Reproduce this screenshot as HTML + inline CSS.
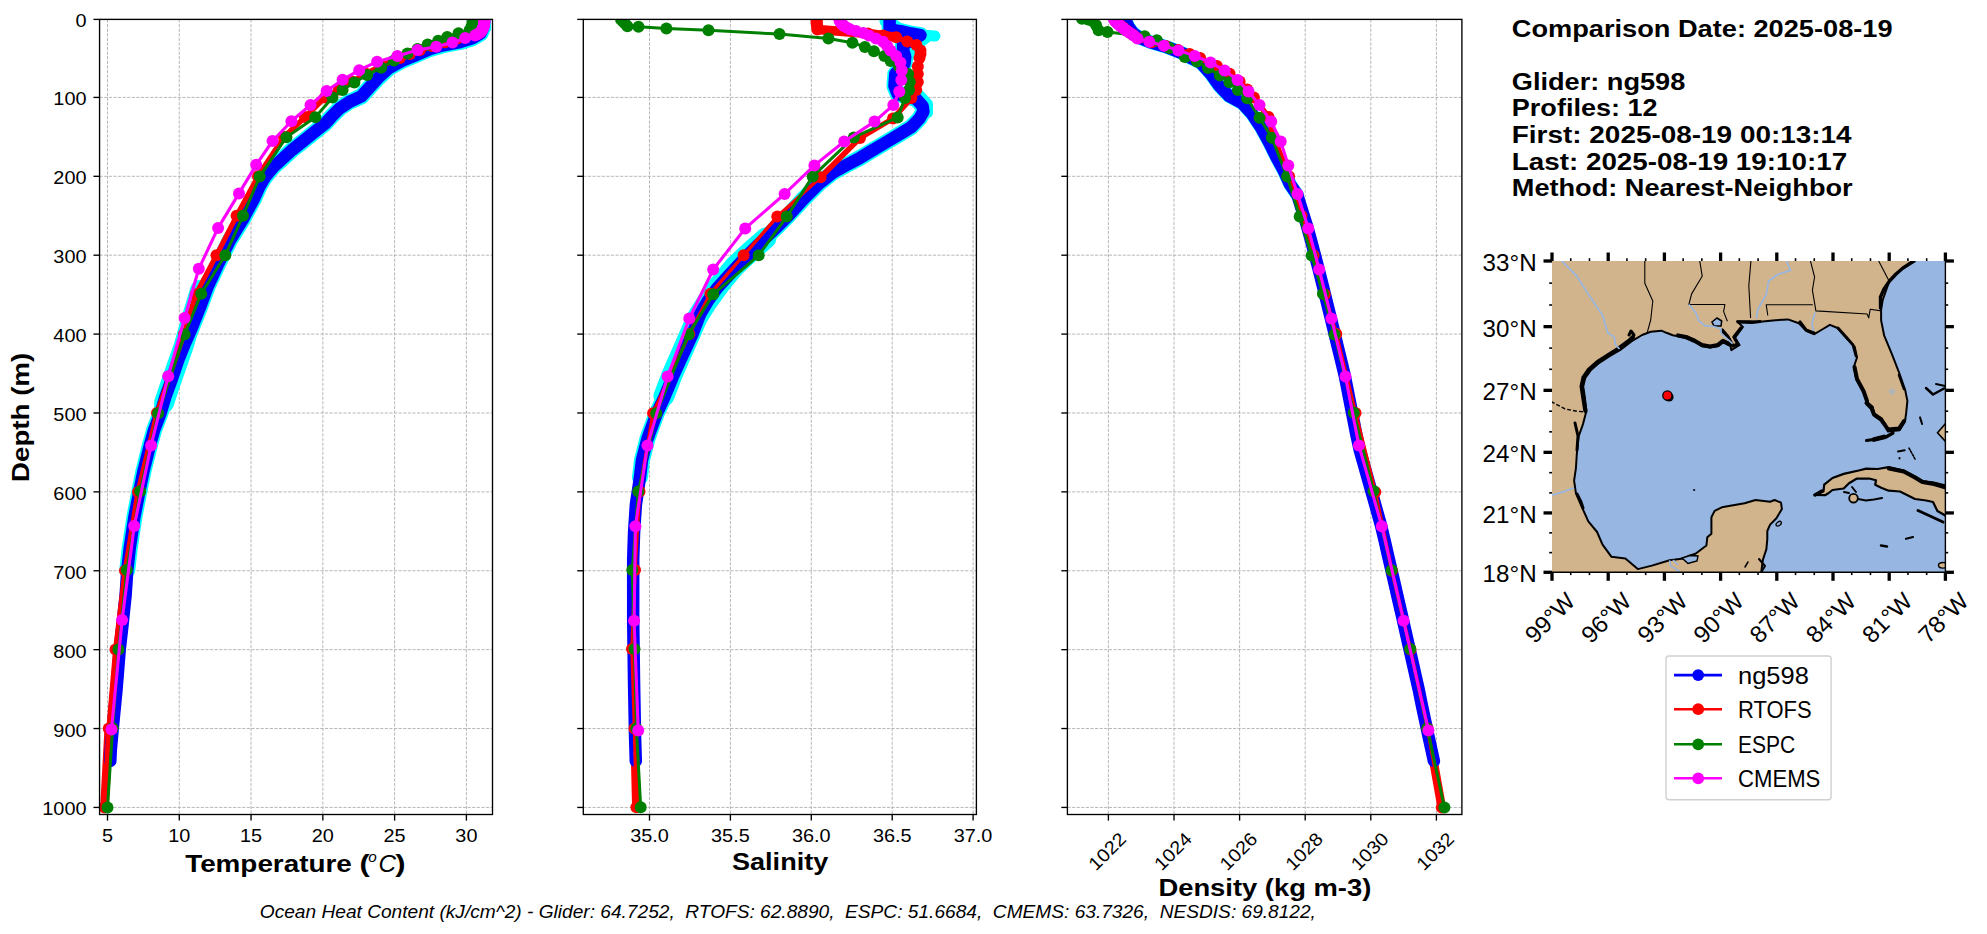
<!DOCTYPE html>
<html><head><meta charset="utf-8"><style>html,body{margin:0;padding:0;background:#fff;width:1987px;height:934px;overflow:hidden;position:relative}</style></head><body>
<svg width="1987" height="934" viewBox="0 0 1987 934" style="position:absolute;left:0;top:0;font-family:'Liberation Sans', sans-serif">
<rect width="1987" height="934" fill="#fff"/>
<clipPath id="clip0"><rect x="99.56" y="19.4" width="392.94" height="795.1"/></clipPath>
<g stroke="#b0b0b0" stroke-width="0.9" stroke-dasharray="3.2,1.4" fill="none">
<line x1="107.50" y1="19.4" x2="107.50" y2="814.5"/>
<line x1="179.28" y1="19.4" x2="179.28" y2="814.5"/>
<line x1="251.06" y1="19.4" x2="251.06" y2="814.5"/>
<line x1="322.84" y1="19.4" x2="322.84" y2="814.5"/>
<line x1="394.62" y1="19.4" x2="394.62" y2="814.5"/>
<line x1="466.40" y1="19.4" x2="466.40" y2="814.5"/>
<line x1="99.56" y1="19.40" x2="492.5" y2="19.40"/>
<line x1="99.56" y1="97.42" x2="492.5" y2="97.42"/>
<line x1="99.56" y1="176.31" x2="492.5" y2="176.31"/>
<line x1="99.56" y1="255.20" x2="492.5" y2="255.20"/>
<line x1="99.56" y1="334.09" x2="492.5" y2="334.09"/>
<line x1="99.56" y1="412.98" x2="492.5" y2="412.98"/>
<line x1="99.56" y1="491.87" x2="492.5" y2="491.87"/>
<line x1="99.56" y1="570.76" x2="492.5" y2="570.76"/>
<line x1="99.56" y1="649.65" x2="492.5" y2="649.65"/>
<line x1="99.56" y1="728.54" x2="492.5" y2="728.54"/>
<line x1="99.56" y1="807.43" x2="492.5" y2="807.43"/>
</g>
<clipPath id="clip1"><rect x="583.3" y="19.4" width="393.1" height="795.1"/></clipPath>
<g stroke="#b0b0b0" stroke-width="0.9" stroke-dasharray="3.2,1.4" fill="none">
<line x1="649.50" y1="19.4" x2="649.50" y2="814.5"/>
<line x1="730.40" y1="19.4" x2="730.40" y2="814.5"/>
<line x1="811.30" y1="19.4" x2="811.30" y2="814.5"/>
<line x1="892.20" y1="19.4" x2="892.20" y2="814.5"/>
<line x1="973.10" y1="19.4" x2="973.10" y2="814.5"/>
<line x1="583.3" y1="19.40" x2="976.4" y2="19.40"/>
<line x1="583.3" y1="97.42" x2="976.4" y2="97.42"/>
<line x1="583.3" y1="176.31" x2="976.4" y2="176.31"/>
<line x1="583.3" y1="255.20" x2="976.4" y2="255.20"/>
<line x1="583.3" y1="334.09" x2="976.4" y2="334.09"/>
<line x1="583.3" y1="412.98" x2="976.4" y2="412.98"/>
<line x1="583.3" y1="491.87" x2="976.4" y2="491.87"/>
<line x1="583.3" y1="570.76" x2="976.4" y2="570.76"/>
<line x1="583.3" y1="649.65" x2="976.4" y2="649.65"/>
<line x1="583.3" y1="728.54" x2="976.4" y2="728.54"/>
<line x1="583.3" y1="807.43" x2="976.4" y2="807.43"/>
</g>
<clipPath id="clip2"><rect x="1067.4" y="19.4" width="394.5" height="795.1"/></clipPath>
<g stroke="#b0b0b0" stroke-width="0.9" stroke-dasharray="3.2,1.4" fill="none">
<line x1="1108.40" y1="19.4" x2="1108.40" y2="814.5"/>
<line x1="1174.00" y1="19.4" x2="1174.00" y2="814.5"/>
<line x1="1239.60" y1="19.4" x2="1239.60" y2="814.5"/>
<line x1="1305.20" y1="19.4" x2="1305.20" y2="814.5"/>
<line x1="1370.80" y1="19.4" x2="1370.80" y2="814.5"/>
<line x1="1436.40" y1="19.4" x2="1436.40" y2="814.5"/>
<line x1="1067.4" y1="19.40" x2="1461.9" y2="19.40"/>
<line x1="1067.4" y1="97.42" x2="1461.9" y2="97.42"/>
<line x1="1067.4" y1="176.31" x2="1461.9" y2="176.31"/>
<line x1="1067.4" y1="255.20" x2="1461.9" y2="255.20"/>
<line x1="1067.4" y1="334.09" x2="1461.9" y2="334.09"/>
<line x1="1067.4" y1="412.98" x2="1461.9" y2="412.98"/>
<line x1="1067.4" y1="491.87" x2="1461.9" y2="491.87"/>
<line x1="1067.4" y1="570.76" x2="1461.9" y2="570.76"/>
<line x1="1067.4" y1="649.65" x2="1461.9" y2="649.65"/>
<line x1="1067.4" y1="728.54" x2="1461.9" y2="728.54"/>
<line x1="1067.4" y1="807.43" x2="1461.9" y2="807.43"/>
</g>
<g clip-path="url(#clip0)" fill="none" stroke-linejoin="round" stroke-linecap="round">
<polyline points="483.0,20.0 483.0,28.0 480.5,33.5 473.0,38.0 460.0,42.0 442.0,45.5 430.0,49.0 415.0,55.5 401.5,61.0 389.0,68.0 378.0,78.0 368.0,89.0 361.4,96.4 349.6,101.7 339.9,108.2 331.4,116.7 325.0,123.7 313.7,132.7 302.5,141.7 292.0,150.0 282.2,159.0 273.2,167.2 265.0,177.0 259.7,186.0 254.2,198.2 243.0,219.0 230.1,240.0 218.9,262.4 207.7,286.5 200.6,305.7 191.0,329.8 184.6,344.2 178.2,360.3 171.7,379.5 165.3,397.2 160.5,413.2 154.1,430.0 149.8,445.7 143.4,471.4 139.4,491.2 134.5,516.4 129.7,548.5 127.3,570.0" stroke="#00ffff" stroke-width="16"/>
<polyline points="200,290 191,320 184,345 177,365 170,385 164,403" stroke="#00ffff" stroke-width="20"/>
<polyline points="108.8,728.5 104.5,807.4" stroke="#ff0000" stroke-width="8.7"/>
<polyline points="483.0,20.0 483.0,28.0 480.5,33.5 473.0,38.0 460.0,42.0 442.0,45.5 430.0,49.0 415.0,55.5 401.5,61.0 389.0,68.0 378.0,78.0 368.0,89.0 361.4,96.4 349.6,101.7 339.9,108.2 331.4,116.7 325.0,123.7 313.7,132.7 302.5,141.7 292.0,150.0 282.2,159.0 273.2,167.2 265.0,177.0 259.7,186.0 254.2,198.2 243.0,219.0 230.1,240.0 218.9,262.4 207.7,286.5 200.6,305.7 191.0,329.8 184.6,344.2 178.2,360.3 171.7,379.5 165.3,397.2 160.5,413.2 154.1,430.0 149.8,445.7 143.4,471.4 139.4,491.2 134.5,516.4 129.7,548.5 127.3,570.0 125.6,595.3 122.5,625.0 119.8,649.0 116.5,690.0 112.8,728.0 110.8,750.0 110.3,761.0" stroke="#0000ff" stroke-width="12.5"/>
<polyline points="484.0,18.5 484.0,20.1 484.0,21.7 484.0,23.3 483.5,24.8 483.0,26.4 482.0,28.0 479.0,30.4 470.0,34.3 458.0,38.3 445.0,42.2 432.0,46.1 420.0,50.1 410.0,54.0 400.0,58.0 381.0,65.9 366.0,73.8 352.0,81.6 339.0,89.5 325.0,97.4 305.0,117.1 284.0,136.9 258.0,176.3" stroke="#ff0000" stroke-width="5.5"/>
<polyline points="258.0,176.3 236.6,215.8 216.5,255.2 195.6,294.6 184.0,334.1 157.0,413.0 138.0,491.9 125.0,570.8 115.5,649.6 108.8,728.5 104.5,807.4" stroke="#ff0000" stroke-width="5"/>
<g fill="#ff0000" stroke="none"><circle cx="484.0" cy="18.5" r="6"/><circle cx="484.0" cy="20.1" r="6"/><circle cx="484.0" cy="21.7" r="6"/><circle cx="484.0" cy="23.3" r="6"/><circle cx="483.5" cy="24.8" r="6"/><circle cx="483.0" cy="26.4" r="6"/><circle cx="482.0" cy="28.0" r="6"/><circle cx="479.0" cy="30.4" r="6"/><circle cx="470.0" cy="34.3" r="6"/><circle cx="458.0" cy="38.3" r="6"/><circle cx="445.0" cy="42.2" r="6"/><circle cx="432.0" cy="46.1" r="6"/><circle cx="420.0" cy="50.1" r="6"/><circle cx="410.0" cy="54.0" r="6"/><circle cx="400.0" cy="58.0" r="6"/><circle cx="381.0" cy="65.9" r="6"/><circle cx="366.0" cy="73.8" r="6"/><circle cx="352.0" cy="81.6" r="6"/><circle cx="339.0" cy="89.5" r="6"/><circle cx="325.0" cy="97.4" r="6"/><circle cx="305.0" cy="117.1" r="6"/><circle cx="284.0" cy="136.9" r="6"/><circle cx="258.0" cy="176.3" r="6"/><circle cx="236.6" cy="215.8" r="6"/><circle cx="216.5" cy="255.2" r="6"/><circle cx="195.6" cy="294.6" r="6"/><circle cx="184.0" cy="334.1" r="6"/><circle cx="157.0" cy="413.0" r="6"/><circle cx="138.0" cy="491.9" r="6"/><circle cx="125.0" cy="570.8" r="6"/><circle cx="115.5" cy="649.6" r="6"/><circle cx="108.8" cy="728.5" r="6"/><circle cx="104.5" cy="807.4" r="6"/></g>
<polyline points="472.9,19.5 472.9,21.2 472.7,23.0 472.4,24.8 471.8,26.6 470.8,28.5 469.5,30.5 458.5,33.2 447.2,37.0 438.2,40.7 427.7,44.5 417.5,49.0 407.5,53.5 394.0,60.5 381.2,67.7 367.2,75.0 354.4,82.5 342.6,90.0 332.5,97.5 315.3,117.3 286.4,137.2 259.7,176.6 243.0,215.8 225.3,255.2 201.2,293.7 184.6,334.6 158.1,413.2 140.2,491.2 126.8,570.1 118.5,649.4 112.6,728.2 107.5,807.4" stroke="#008000" stroke-width="3.0"/>
<g fill="#008000" stroke="none"><circle cx="472.9" cy="19.5" r="6"/><circle cx="472.9" cy="21.2" r="6"/><circle cx="472.7" cy="23.0" r="6"/><circle cx="472.4" cy="24.8" r="6"/><circle cx="471.8" cy="26.6" r="6"/><circle cx="470.8" cy="28.5" r="6"/><circle cx="469.5" cy="30.5" r="6"/><circle cx="458.5" cy="33.2" r="6"/><circle cx="447.2" cy="37.0" r="6"/><circle cx="438.2" cy="40.7" r="6"/><circle cx="427.7" cy="44.5" r="6"/><circle cx="417.5" cy="49.0" r="6"/><circle cx="407.5" cy="53.5" r="6"/><circle cx="394.0" cy="60.5" r="6"/><circle cx="381.2" cy="67.7" r="6"/><circle cx="367.2" cy="75.0" r="6"/><circle cx="354.4" cy="82.5" r="6"/><circle cx="342.6" cy="90.0" r="6"/><circle cx="332.5" cy="97.5" r="6"/><circle cx="315.3" cy="117.3" r="6"/><circle cx="286.4" cy="137.2" r="6"/><circle cx="259.7" cy="176.6" r="6"/><circle cx="243.0" cy="215.8" r="6"/><circle cx="225.3" cy="255.2" r="6"/><circle cx="201.2" cy="293.7" r="6"/><circle cx="184.6" cy="334.6" r="6"/><circle cx="158.1" cy="413.2" r="6"/><circle cx="140.2" cy="491.2" r="6"/><circle cx="126.8" cy="570.1" r="6"/><circle cx="118.5" cy="649.4" r="6"/><circle cx="112.6" cy="728.2" r="6"/><circle cx="107.5" cy="807.4" r="6"/></g>
<polyline points="484.4,19.5 484.5,20.6 484.5,21.7 484.4,22.8 484.2,24.0 484.0,25.3 483.6,26.6 483.0,28.0 482.3,29.5 481.5,31.0 480.0,32.8 477.5,34.2 475.0,35.5 465.2,38.1 452.5,42.6 436.3,46.7 417.6,50.1 397.4,56.1 377.1,61.7 359.2,70.2 342.6,79.8 326.6,91.0 310.5,105.0 291.4,121.2 272.5,141.0 256.2,164.8 239.0,193.4 218.1,227.9 198.8,268.8 184.6,318.0 168.2,376.3 151.1,445.4 134.2,526.0 122.1,620.0 111.5,729.5" stroke="#ff00ff" stroke-width="3.1"/>
<g fill="#ff00ff" stroke="none"><circle cx="484.4" cy="19.5" r="6"/><circle cx="484.5" cy="20.6" r="6"/><circle cx="484.5" cy="21.7" r="6"/><circle cx="484.4" cy="22.8" r="6"/><circle cx="484.2" cy="24.0" r="6"/><circle cx="484.0" cy="25.3" r="6"/><circle cx="483.6" cy="26.6" r="6"/><circle cx="483.0" cy="28.0" r="6"/><circle cx="482.3" cy="29.5" r="6"/><circle cx="481.5" cy="31.0" r="6"/><circle cx="480.0" cy="32.8" r="6"/><circle cx="477.5" cy="34.2" r="6"/><circle cx="475.0" cy="35.5" r="6"/><circle cx="465.2" cy="38.1" r="6"/><circle cx="452.5" cy="42.6" r="6"/><circle cx="436.3" cy="46.7" r="6"/><circle cx="417.6" cy="50.1" r="6"/><circle cx="397.4" cy="56.1" r="6"/><circle cx="377.1" cy="61.7" r="6"/><circle cx="359.2" cy="70.2" r="6"/><circle cx="342.6" cy="79.8" r="6"/><circle cx="326.6" cy="91.0" r="6"/><circle cx="310.5" cy="105.0" r="6"/><circle cx="291.4" cy="121.2" r="6"/><circle cx="272.5" cy="141.0" r="6"/><circle cx="256.2" cy="164.8" r="6"/><circle cx="239.0" cy="193.4" r="6"/><circle cx="218.1" cy="227.9" r="6"/><circle cx="198.8" cy="268.8" r="6"/><circle cx="184.6" cy="318.0" r="6"/><circle cx="168.2" cy="376.3" r="6"/><circle cx="151.1" cy="445.4" r="6"/><circle cx="134.2" cy="526.0" r="6"/><circle cx="122.1" cy="620.0" r="6"/><circle cx="111.5" cy="729.5" r="6"/></g>
</g>
<g clip-path="url(#clip1)" fill="none" stroke-linejoin="round" stroke-linecap="round">
<polyline points="889.6,20.5 889.6,28.0 895.0,30.5 902.4,31.5 911.0,33.5 920.5,35.2 912.0,40.0 903.0,45.0 903.1,49.8 905.2,56.8 904.5,63.7 895.3,74.0 894.5,86.0 897.7,94.1 916.2,98.9 922.6,106.1 923.4,111.7 919.5,118.5 911.3,127.1 898.5,134.8 885.7,142.5 872.8,150.2 860.0,157.9 847.0,164.8 833.0,172.5 819.0,183.5 803.0,199.5 786.9,217.2 777.9,226.2 758.7,244.2 743.0,260.0 728.4,275.7 717.1,288.1 708.1,300.5 700.2,314.0 692.5,334.1 681.3,358.2 672.5,377.5 664.5,396.8 656.5,414.0 647.5,438.6 642.0,460.0 640.0,477.3" stroke="#00ffff" stroke-width="16"/>
<polyline points="886.0,21.0 897.0,28.0" stroke="#00ffff" stroke-width="13"/>
<polyline points="920.0,35.0 935.0,36.0" stroke="#00ffff" stroke-width="11"/>
<polyline points="928.0,38.0 915.0,48.0 910.0,58.0" stroke="#00ffff" stroke-width="8"/>
<polyline points="920.0,95.0 928.0,104.0 928.0,113.0" stroke="#00ffff" stroke-width="10"/>
<polyline points="766.0,238.0 750.0,252.0 735.0,266.0 720.0,284.0 707.0,302.0 697.0,318.0 683.0,350.0 672.0,375.0 664.0,396.0" stroke="#00ffff" stroke-width="21"/>
<polyline points="634.5,728.4 636.4,807.3" stroke="#ff0000" stroke-width="8.7"/>
<polyline points="889.6,20.5 889.6,28.0 895.0,30.5 902.4,31.5 911.0,33.5 920.5,35.2 912.0,40.0 903.0,45.0 903.1,49.8 905.2,56.8 904.5,63.7 895.3,74.0 894.5,86.0 897.7,94.1 916.2,98.9 922.6,106.1 923.4,111.7 919.5,118.5 911.3,127.1 898.5,134.8 885.7,142.5 872.8,150.2 860.0,157.9 847.0,164.8 833.0,172.5 819.0,183.5 803.0,199.5 786.9,217.2 777.9,226.2 758.7,244.2 743.0,260.0 728.4,275.7 717.1,288.1 708.1,300.5 700.2,314.0 692.5,334.1 681.3,358.2 672.5,377.5 664.5,396.8 656.5,414.0 647.5,438.6 642.0,460.0 640.0,477.3 635.9,504.5 634.1,531.8 633.2,559.0 633.2,586.4 633.2,620.0 634.0,680.0 635.0,734.5 635.8,761.0" stroke="#0000ff" stroke-width="12.5"/>
<polyline points="816.6,18.5 816.6,20.1 816.6,21.7 816.7,23.3 816.9,24.8 817.1,26.4 817.4,29.5 868.0,33.5 883.0,35.5 896.2,37.2 907.3,41.4 916.4,44.9 920.5,50.5 920.5,54.0 919.5,58.0 917.8,66.5 917.8,74.0 917.8,82.0 916.2,90.1 911.4,98.1 893.0,118.5 860.0,138.0 820.6,177.3" stroke="#ff0000" stroke-width="5.5"/>
<polyline points="820.6,177.3 777.3,216.6 743.6,255.3 710.4,293.7 689.3,334.0 653.1,413.3 639.5,491.5 635.0,570.0 632.0,649.1 634.5,728.4 636.4,807.3" stroke="#ff0000" stroke-width="3.5"/>
<polyline points="816.6,18.5 816.6,20.1 816.6,21.7 816.7,23.3 816.9,24.8 817.1,26.4 817.4,29.5 868.0,33.5 883.0,35.5 896.2,37.2" stroke="#ff0000" stroke-width="9.5"/>
<g fill="#ff0000" stroke="none"><circle cx="816.6" cy="18.5" r="6"/><circle cx="816.6" cy="20.1" r="6"/><circle cx="816.6" cy="21.7" r="6"/><circle cx="816.7" cy="23.3" r="6"/><circle cx="816.9" cy="24.8" r="6"/><circle cx="817.1" cy="26.4" r="6"/><circle cx="817.4" cy="29.5" r="6"/><circle cx="868.0" cy="33.5" r="6"/><circle cx="883.0" cy="35.5" r="6"/><circle cx="896.2" cy="37.2" r="6"/><circle cx="907.3" cy="41.4" r="6"/><circle cx="916.4" cy="44.9" r="6"/><circle cx="920.5" cy="50.5" r="6"/><circle cx="920.5" cy="54.0" r="6"/><circle cx="919.5" cy="58.0" r="6"/><circle cx="917.8" cy="66.5" r="6"/><circle cx="917.8" cy="74.0" r="6"/><circle cx="917.8" cy="82.0" r="6"/><circle cx="916.2" cy="90.1" r="6"/><circle cx="911.4" cy="98.1" r="6"/><circle cx="893.0" cy="118.5" r="6"/><circle cx="860.0" cy="138.0" r="6"/><circle cx="820.6" cy="177.3" r="6"/><circle cx="777.3" cy="216.6" r="6"/><circle cx="743.6" cy="255.3" r="6"/><circle cx="710.4" cy="293.7" r="6"/><circle cx="689.3" cy="334.0" r="6"/><circle cx="653.1" cy="413.3" r="6"/><circle cx="639.5" cy="491.5" r="6"/><circle cx="635.0" cy="570.0" r="6"/><circle cx="632.0" cy="649.1" r="6"/><circle cx="634.5" cy="728.4" r="6"/><circle cx="636.4" cy="807.3" r="6"/></g>
<polyline points="621.0,19.5 623.0,21.5 625.0,23.5 627.4,26.2 638.5,26.8 666.4,28.5 708.5,30.3 779.5,34.1 828.4,38.6 852.4,42.7 864.9,47.0 873.9,51.2 884.4,56.1 890.6,61.0 899.0,66.5 908.2,74.0 909.8,82.0 909.0,90.1 905.0,98.1 897.7,117.4 853.8,137.4 812.7,176.4 786.8,216.6 758.7,255.3 713.2,294.3 688.5,334.4 656.3,413.3 638.3,491.5 632.3,570.0 634.5,649.1 636.4,728.4 640.7,807.3" stroke="#008000" stroke-width="3.0"/>
<g fill="#008000" stroke="none"><circle cx="621.0" cy="19.5" r="6"/><circle cx="623.0" cy="21.5" r="6"/><circle cx="625.0" cy="23.5" r="6"/><circle cx="627.4" cy="26.2" r="6"/><circle cx="638.5" cy="26.8" r="6"/><circle cx="666.4" cy="28.5" r="6"/><circle cx="708.5" cy="30.3" r="6"/><circle cx="779.5" cy="34.1" r="6"/><circle cx="828.4" cy="38.6" r="6"/><circle cx="852.4" cy="42.7" r="6"/><circle cx="864.9" cy="47.0" r="6"/><circle cx="873.9" cy="51.2" r="6"/><circle cx="884.4" cy="56.1" r="6"/><circle cx="890.6" cy="61.0" r="6"/><circle cx="899.0" cy="66.5" r="6"/><circle cx="908.2" cy="74.0" r="6"/><circle cx="909.8" cy="82.0" r="6"/><circle cx="909.0" cy="90.1" r="6"/><circle cx="905.0" cy="98.1" r="6"/><circle cx="897.7" cy="117.4" r="6"/><circle cx="853.8" cy="137.4" r="6"/><circle cx="812.7" cy="176.4" r="6"/><circle cx="786.8" cy="216.6" r="6"/><circle cx="758.7" cy="255.3" r="6"/><circle cx="713.2" cy="294.3" r="6"/><circle cx="688.5" cy="334.4" r="6"/><circle cx="656.3" cy="413.3" r="6"/><circle cx="638.3" cy="491.5" r="6"/><circle cx="632.3" cy="570.0" r="6"/><circle cx="634.5" cy="649.1" r="6"/><circle cx="636.4" cy="728.4" r="6"/><circle cx="640.7" cy="807.3" r="6"/></g>
<polyline points="839.5,18.9 839.6,19.7 839.8,20.6 840.2,21.5 840.8,22.5 841.6,23.6 842.6,24.8 844.0,26.1 846.5,27.5 850.0,29.2 856.0,31.0 863.4,33.1 869.0,35.6 876.0,38.4 883.0,41.8 887.0,45.7 890.5,50.4 896.2,55.9 900.4,62.5 901.8,70.4 901.3,79.9 899.3,91.4 893.3,105.1 874.5,121.6 844.2,141.5 814.4,165.4 784.6,194.0 745.2,228.4 713.2,269.5 689.3,318.5 667.6,376.6 647.5,445.4 635.4,526.2 634.1,620.7 638.2,730.4" stroke="#ff00ff" stroke-width="3.1"/>
<g fill="#ff00ff" stroke="none"><circle cx="839.5" cy="18.9" r="6"/><circle cx="839.6" cy="19.7" r="6"/><circle cx="839.8" cy="20.6" r="6"/><circle cx="840.2" cy="21.5" r="6"/><circle cx="840.8" cy="22.5" r="6"/><circle cx="841.6" cy="23.6" r="6"/><circle cx="842.6" cy="24.8" r="6"/><circle cx="844.0" cy="26.1" r="6"/><circle cx="846.5" cy="27.5" r="6"/><circle cx="850.0" cy="29.2" r="6"/><circle cx="856.0" cy="31.0" r="6"/><circle cx="863.4" cy="33.1" r="6"/><circle cx="869.0" cy="35.6" r="6"/><circle cx="876.0" cy="38.4" r="6"/><circle cx="883.0" cy="41.8" r="6"/><circle cx="887.0" cy="45.7" r="6"/><circle cx="890.5" cy="50.4" r="6"/><circle cx="896.2" cy="55.9" r="6"/><circle cx="900.4" cy="62.5" r="6"/><circle cx="901.8" cy="70.4" r="6"/><circle cx="901.3" cy="79.9" r="6"/><circle cx="899.3" cy="91.4" r="6"/><circle cx="893.3" cy="105.1" r="6"/><circle cx="874.5" cy="121.6" r="6"/><circle cx="844.2" cy="141.5" r="6"/><circle cx="814.4" cy="165.4" r="6"/><circle cx="784.6" cy="194.0" r="6"/><circle cx="745.2" cy="228.4" r="6"/><circle cx="713.2" cy="269.5" r="6"/><circle cx="689.3" cy="318.5" r="6"/><circle cx="667.6" cy="376.6" r="6"/><circle cx="647.5" cy="445.4" r="6"/><circle cx="635.4" cy="526.2" r="6"/><circle cx="634.1" cy="620.7" r="6"/><circle cx="638.2" cy="730.4" r="6"/></g>
</g>
<g clip-path="url(#clip2)" fill="none" stroke-linejoin="round" stroke-linecap="round">
<polyline points="1125.5,20.0 1128.5,27.0 1133.0,33.0 1140.0,38.0 1151.6,42.6 1165.8,46.7 1176.4,50.8 1183.0,53.5 1192.0,58.5 1201.0,63.0 1210.5,73.5 1219.0,85.5 1229.0,96.0 1242.0,103.0 1251.8,113.6 1261.2,127.7 1269.5,143.0 1276.5,157.2 1283.6,170.2 1290.0,184.3 1297.3,195.0" stroke="#00ffff" stroke-width="13.5"/>
<polyline points="1427.6,728.5 1441.8,807.4" stroke="#ff0000" stroke-width="8.7"/>
<polyline points="1125.5,20.0 1128.5,27.0 1133.0,33.0 1140.0,38.0 1151.6,42.6 1165.8,46.7 1176.4,50.8 1183.0,53.5 1192.0,58.5 1201.0,63.0 1210.5,73.5 1219.0,85.5 1229.0,96.0 1242.0,103.0 1251.8,113.6 1261.2,127.7 1269.5,143.0 1276.5,157.2 1283.6,170.2 1290.0,184.3 1297.3,195.0 1302.0,210.0 1306.7,225.0 1310.9,240.0 1314.9,255.0 1318.8,270.0 1322.6,285.0 1326.3,300.0 1330.0,315.0 1333.7,330.0 1337.3,345.0 1341.0,360.0 1344.6,375.0 1347.6,390.0 1350.5,405.0 1353.5,420.0 1356.4,435.0 1359.7,450.0 1364.0,465.0 1368.2,480.0 1372.5,495.0 1376.7,510.0 1380.9,525.0 1384.5,540.0 1387.9,555.0 1391.4,570.0 1394.9,585.0 1398.3,600.0 1401.8,615.0 1405.2,630.0 1408.6,645.0 1412.0,660.0 1415.4,675.0 1418.8,690.0 1421.8,705.0 1425.0,720.0 1428.2,735.0 1431.5,750.0 1433.9,761.0" stroke="#0000ff" stroke-width="12.5"/>
<polyline points="1114.5,18.5 1115.2,20.1 1116.1,21.7 1117.7,23.3 1119.6,24.8 1121.5,26.4 1123.6,28.0 1126.6,30.4 1132.2,34.3 1137.8,38.3 1151.4,42.2 1165.8,46.1 1178.1,50.1 1189.7,54.0 1200.1,58.0 1216.9,65.9 1229.6,73.8 1239.6,81.6 1247.2,89.5 1253.9,97.4 1268.5,117.1 1273.6,136.9 1289.0,176.3" stroke="#ff0000" stroke-width="5.5"/>
<polyline points="1289.0,176.3 1301.5,215.8 1313.5,255.2 1324.7,294.6 1336.3,334.1 1355.6,413.0 1375.3,491.9 1391.9,570.8 1410.5,649.6 1427.6,728.5 1441.8,807.4" stroke="#ff0000" stroke-width="3.5"/>
<g fill="#ff0000" stroke="none"><circle cx="1114.5" cy="18.5" r="6"/><circle cx="1115.2" cy="20.1" r="6"/><circle cx="1116.1" cy="21.7" r="6"/><circle cx="1117.7" cy="23.3" r="6"/><circle cx="1119.6" cy="24.8" r="6"/><circle cx="1121.5" cy="26.4" r="6"/><circle cx="1123.6" cy="28.0" r="6"/><circle cx="1126.6" cy="30.4" r="6"/><circle cx="1132.2" cy="34.3" r="6"/><circle cx="1137.8" cy="38.3" r="6"/><circle cx="1151.4" cy="42.2" r="6"/><circle cx="1165.8" cy="46.1" r="6"/><circle cx="1178.1" cy="50.1" r="6"/><circle cx="1189.7" cy="54.0" r="6"/><circle cx="1200.1" cy="58.0" r="6"/><circle cx="1216.9" cy="65.9" r="6"/><circle cx="1229.6" cy="73.8" r="6"/><circle cx="1239.6" cy="81.6" r="6"/><circle cx="1247.2" cy="89.5" r="6"/><circle cx="1253.9" cy="97.4" r="6"/><circle cx="1268.5" cy="117.1" r="6"/><circle cx="1273.6" cy="136.9" r="6"/><circle cx="1289.0" cy="176.3" r="6"/><circle cx="1301.5" cy="215.8" r="6"/><circle cx="1313.5" cy="255.2" r="6"/><circle cx="1324.7" cy="294.6" r="6"/><circle cx="1336.3" cy="334.1" r="6"/><circle cx="1355.6" cy="413.0" r="6"/><circle cx="1375.3" cy="491.9" r="6"/><circle cx="1391.9" cy="570.8" r="6"/><circle cx="1410.5" cy="649.6" r="6"/><circle cx="1427.6" cy="728.5" r="6"/><circle cx="1441.8" cy="807.4" r="6"/></g>
<polyline points="1082.0,18.8 1088.0,19.5 1092.0,20.8 1096.0,25.0 1098.6,30.3 1107.5,32.1 1144.6,36.2 1156.9,40.3 1169.4,48.0 1184.8,57.0 1197.0,61.5 1208.0,68.1 1219.9,75.4 1229.4,82.2 1237.9,89.9 1247.1,98.3 1259.5,117.7 1271.8,137.7 1287.2,176.6 1299.7,216.6 1311.7,255.5 1322.9,293.7 1334.5,334.5 1353.8,412.7 1373.5,490.9 1391.6,570.2 1410.2,649.1 1427.3,728.4 1444.4,807.4" stroke="#008000" stroke-width="3.0"/>
<g fill="#008000" stroke="none"><circle cx="1082.0" cy="18.8" r="6"/><circle cx="1088.0" cy="19.5" r="6"/><circle cx="1092.0" cy="20.8" r="6"/><circle cx="1096.0" cy="25.0" r="6"/><circle cx="1098.6" cy="30.3" r="6"/><circle cx="1107.5" cy="32.1" r="6"/><circle cx="1144.6" cy="36.2" r="6"/><circle cx="1156.9" cy="40.3" r="6"/><circle cx="1169.4" cy="48.0" r="6"/><circle cx="1184.8" cy="57.0" r="6"/><circle cx="1197.0" cy="61.5" r="6"/><circle cx="1208.0" cy="68.1" r="6"/><circle cx="1219.9" cy="75.4" r="6"/><circle cx="1229.4" cy="82.2" r="6"/><circle cx="1237.9" cy="89.9" r="6"/><circle cx="1247.1" cy="98.3" r="6"/><circle cx="1259.5" cy="117.7" r="6"/><circle cx="1271.8" cy="137.7" r="6"/><circle cx="1287.2" cy="176.6" r="6"/><circle cx="1299.7" cy="216.6" r="6"/><circle cx="1311.7" cy="255.5" r="6"/><circle cx="1322.9" cy="293.7" r="6"/><circle cx="1334.5" cy="334.5" r="6"/><circle cx="1353.8" cy="412.7" r="6"/><circle cx="1373.5" cy="490.9" r="6"/><circle cx="1391.6" cy="570.2" r="6"/><circle cx="1410.2" cy="649.1" r="6"/><circle cx="1427.3" cy="728.4" r="6"/><circle cx="1444.4" cy="807.4" r="6"/></g>
<polyline points="1114.0,18.9 1114.5,19.7 1115.0,20.6 1115.5,21.5 1116.5,22.5 1117.5,23.6 1119.0,24.8 1120.5,26.1 1122.5,27.5 1124.5,29.2 1127.0,31.0 1130.0,33.1 1133.5,35.6 1137.5,38.4 1149.3,41.8 1163.9,45.7 1178.4,50.4 1194.7,55.9 1210.5,62.5 1224.6,70.4 1237.5,79.9 1248.5,91.4 1259.5,105.1 1271.2,121.6 1280.7,141.5 1288.3,165.4 1297.5,194.0 1308.3,228.4 1319.2,269.5 1331.4,318.5 1345.5,376.6 1358.9,445.4 1381.8,526.2 1403.6,620.7 1428.4,730.4" stroke="#ff00ff" stroke-width="3.1"/>
<g fill="#ff00ff" stroke="none"><circle cx="1114.0" cy="18.9" r="6"/><circle cx="1114.5" cy="19.7" r="6"/><circle cx="1115.0" cy="20.6" r="6"/><circle cx="1115.5" cy="21.5" r="6"/><circle cx="1116.5" cy="22.5" r="6"/><circle cx="1117.5" cy="23.6" r="6"/><circle cx="1119.0" cy="24.8" r="6"/><circle cx="1120.5" cy="26.1" r="6"/><circle cx="1122.5" cy="27.5" r="6"/><circle cx="1124.5" cy="29.2" r="6"/><circle cx="1127.0" cy="31.0" r="6"/><circle cx="1130.0" cy="33.1" r="6"/><circle cx="1133.5" cy="35.6" r="6"/><circle cx="1137.5" cy="38.4" r="6"/><circle cx="1149.3" cy="41.8" r="6"/><circle cx="1163.9" cy="45.7" r="6"/><circle cx="1178.4" cy="50.4" r="6"/><circle cx="1194.7" cy="55.9" r="6"/><circle cx="1210.5" cy="62.5" r="6"/><circle cx="1224.6" cy="70.4" r="6"/><circle cx="1237.5" cy="79.9" r="6"/><circle cx="1248.5" cy="91.4" r="6"/><circle cx="1259.5" cy="105.1" r="6"/><circle cx="1271.2" cy="121.6" r="6"/><circle cx="1280.7" cy="141.5" r="6"/><circle cx="1288.3" cy="165.4" r="6"/><circle cx="1297.5" cy="194.0" r="6"/><circle cx="1308.3" cy="228.4" r="6"/><circle cx="1319.2" cy="269.5" r="6"/><circle cx="1331.4" cy="318.5" r="6"/><circle cx="1345.5" cy="376.6" r="6"/><circle cx="1358.9" cy="445.4" r="6"/><circle cx="1381.8" cy="526.2" r="6"/><circle cx="1403.6" cy="620.7" r="6"/><circle cx="1428.4" cy="730.4" r="6"/></g>
</g>
<rect x="99.56" y="19.4" width="392.94" height="795.10" fill="none" stroke="#000" stroke-width="1.35"/>
<g stroke="#000" stroke-width="1.35">
<line x1="107.50" y1="814.5" x2="107.50" y2="820.6"/>
<line x1="179.28" y1="814.5" x2="179.28" y2="820.6"/>
<line x1="251.06" y1="814.5" x2="251.06" y2="820.6"/>
<line x1="322.84" y1="814.5" x2="322.84" y2="820.6"/>
<line x1="394.62" y1="814.5" x2="394.62" y2="820.6"/>
<line x1="466.40" y1="814.5" x2="466.40" y2="820.6"/>
<line x1="93.46000000000001" y1="19.40" x2="99.56" y2="19.40"/>
<line x1="93.46000000000001" y1="97.42" x2="99.56" y2="97.42"/>
<line x1="93.46000000000001" y1="176.31" x2="99.56" y2="176.31"/>
<line x1="93.46000000000001" y1="255.20" x2="99.56" y2="255.20"/>
<line x1="93.46000000000001" y1="334.09" x2="99.56" y2="334.09"/>
<line x1="93.46000000000001" y1="412.98" x2="99.56" y2="412.98"/>
<line x1="93.46000000000001" y1="491.87" x2="99.56" y2="491.87"/>
<line x1="93.46000000000001" y1="570.76" x2="99.56" y2="570.76"/>
<line x1="93.46000000000001" y1="649.65" x2="99.56" y2="649.65"/>
<line x1="93.46000000000001" y1="728.54" x2="99.56" y2="728.54"/>
<line x1="93.46000000000001" y1="807.43" x2="99.56" y2="807.43"/>
</g>
<rect x="583.3" y="19.4" width="393.10" height="795.10" fill="none" stroke="#000" stroke-width="1.35"/>
<g stroke="#000" stroke-width="1.35">
<line x1="649.50" y1="814.5" x2="649.50" y2="820.6"/>
<line x1="730.40" y1="814.5" x2="730.40" y2="820.6"/>
<line x1="811.30" y1="814.5" x2="811.30" y2="820.6"/>
<line x1="892.20" y1="814.5" x2="892.20" y2="820.6"/>
<line x1="973.10" y1="814.5" x2="973.10" y2="820.6"/>
<line x1="577.1999999999999" y1="19.40" x2="583.3" y2="19.40"/>
<line x1="577.1999999999999" y1="97.42" x2="583.3" y2="97.42"/>
<line x1="577.1999999999999" y1="176.31" x2="583.3" y2="176.31"/>
<line x1="577.1999999999999" y1="255.20" x2="583.3" y2="255.20"/>
<line x1="577.1999999999999" y1="334.09" x2="583.3" y2="334.09"/>
<line x1="577.1999999999999" y1="412.98" x2="583.3" y2="412.98"/>
<line x1="577.1999999999999" y1="491.87" x2="583.3" y2="491.87"/>
<line x1="577.1999999999999" y1="570.76" x2="583.3" y2="570.76"/>
<line x1="577.1999999999999" y1="649.65" x2="583.3" y2="649.65"/>
<line x1="577.1999999999999" y1="728.54" x2="583.3" y2="728.54"/>
<line x1="577.1999999999999" y1="807.43" x2="583.3" y2="807.43"/>
</g>
<rect x="1067.4" y="19.4" width="394.50" height="795.10" fill="none" stroke="#000" stroke-width="1.35"/>
<g stroke="#000" stroke-width="1.35">
<line x1="1108.40" y1="814.5" x2="1108.40" y2="820.6"/>
<line x1="1174.00" y1="814.5" x2="1174.00" y2="820.6"/>
<line x1="1239.60" y1="814.5" x2="1239.60" y2="820.6"/>
<line x1="1305.20" y1="814.5" x2="1305.20" y2="820.6"/>
<line x1="1370.80" y1="814.5" x2="1370.80" y2="820.6"/>
<line x1="1436.40" y1="814.5" x2="1436.40" y2="820.6"/>
<line x1="1061.3000000000002" y1="19.40" x2="1067.4" y2="19.40"/>
<line x1="1061.3000000000002" y1="97.42" x2="1067.4" y2="97.42"/>
<line x1="1061.3000000000002" y1="176.31" x2="1067.4" y2="176.31"/>
<line x1="1061.3000000000002" y1="255.20" x2="1067.4" y2="255.20"/>
<line x1="1061.3000000000002" y1="334.09" x2="1067.4" y2="334.09"/>
<line x1="1061.3000000000002" y1="412.98" x2="1067.4" y2="412.98"/>
<line x1="1061.3000000000002" y1="491.87" x2="1067.4" y2="491.87"/>
<line x1="1061.3000000000002" y1="570.76" x2="1067.4" y2="570.76"/>
<line x1="1061.3000000000002" y1="649.65" x2="1067.4" y2="649.65"/>
<line x1="1061.3000000000002" y1="728.54" x2="1067.4" y2="728.54"/>
<line x1="1061.3000000000002" y1="807.43" x2="1067.4" y2="807.43"/>
</g>
<g fill="#000">
<text x="86.50" y="26.53" font-size="18.40" textLength="11.04" lengthAdjust="spacingAndGlyphs" text-anchor="end" style="white-space:pre">0</text>
<text x="86.50" y="105.42" font-size="18.40" textLength="33.13" lengthAdjust="spacingAndGlyphs" text-anchor="end" style="white-space:pre">100</text>
<text x="86.50" y="184.31" font-size="18.40" textLength="33.13" lengthAdjust="spacingAndGlyphs" text-anchor="end" style="white-space:pre">200</text>
<text x="86.50" y="263.20" font-size="18.40" textLength="33.13" lengthAdjust="spacingAndGlyphs" text-anchor="end" style="white-space:pre">300</text>
<text x="86.50" y="342.09" font-size="18.40" textLength="33.13" lengthAdjust="spacingAndGlyphs" text-anchor="end" style="white-space:pre">400</text>
<text x="86.50" y="420.98" font-size="18.40" textLength="33.13" lengthAdjust="spacingAndGlyphs" text-anchor="end" style="white-space:pre">500</text>
<text x="86.50" y="499.87" font-size="18.40" textLength="33.13" lengthAdjust="spacingAndGlyphs" text-anchor="end" style="white-space:pre">600</text>
<text x="86.50" y="578.76" font-size="18.40" textLength="33.13" lengthAdjust="spacingAndGlyphs" text-anchor="end" style="white-space:pre">700</text>
<text x="86.50" y="657.65" font-size="18.40" textLength="33.13" lengthAdjust="spacingAndGlyphs" text-anchor="end" style="white-space:pre">800</text>
<text x="86.50" y="736.54" font-size="18.40" textLength="33.13" lengthAdjust="spacingAndGlyphs" text-anchor="end" style="white-space:pre">900</text>
<text x="86.50" y="815.43" font-size="18.40" textLength="44.18" lengthAdjust="spacingAndGlyphs" text-anchor="end" style="white-space:pre">1000</text>
<text x="107.50" y="841.80" font-size="18.40" textLength="11.04" lengthAdjust="spacingAndGlyphs" text-anchor="middle" style="white-space:pre">5</text>
<text x="179.28" y="841.80" font-size="18.40" textLength="22.09" lengthAdjust="spacingAndGlyphs" text-anchor="middle" style="white-space:pre">10</text>
<text x="251.06" y="841.80" font-size="18.40" textLength="22.09" lengthAdjust="spacingAndGlyphs" text-anchor="middle" style="white-space:pre">15</text>
<text x="322.84" y="841.80" font-size="18.40" textLength="22.09" lengthAdjust="spacingAndGlyphs" text-anchor="middle" style="white-space:pre">20</text>
<text x="394.62" y="841.80" font-size="18.40" textLength="22.09" lengthAdjust="spacingAndGlyphs" text-anchor="middle" style="white-space:pre">25</text>
<text x="466.40" y="841.80" font-size="18.40" textLength="22.09" lengthAdjust="spacingAndGlyphs" text-anchor="middle" style="white-space:pre">30</text>
<text x="649.50" y="841.80" font-size="18.40" textLength="38.65" lengthAdjust="spacingAndGlyphs" text-anchor="middle" style="white-space:pre">35.0</text>
<text x="730.40" y="841.80" font-size="18.40" textLength="38.65" lengthAdjust="spacingAndGlyphs" text-anchor="middle" style="white-space:pre">35.5</text>
<text x="811.30" y="841.80" font-size="18.40" textLength="38.65" lengthAdjust="spacingAndGlyphs" text-anchor="middle" style="white-space:pre">36.0</text>
<text x="892.20" y="841.80" font-size="18.40" textLength="38.65" lengthAdjust="spacingAndGlyphs" text-anchor="middle" style="white-space:pre">36.5</text>
<text x="973.10" y="841.80" font-size="18.40" textLength="38.65" lengthAdjust="spacingAndGlyphs" text-anchor="middle" style="white-space:pre">37.0</text>
<text x="1107.30" y="857.70" font-size="18.40" textLength="44.18" lengthAdjust="spacingAndGlyphs" text-anchor="middle" transform="rotate(-45 1107.3 851.4)" style="white-space:pre">1022</text>
<text x="1172.90" y="857.70" font-size="18.40" textLength="44.18" lengthAdjust="spacingAndGlyphs" text-anchor="middle" transform="rotate(-45 1172.9 851.4)" style="white-space:pre">1024</text>
<text x="1238.50" y="857.70" font-size="18.40" textLength="44.18" lengthAdjust="spacingAndGlyphs" text-anchor="middle" transform="rotate(-45 1238.5 851.4)" style="white-space:pre">1026</text>
<text x="1304.10" y="857.70" font-size="18.40" textLength="44.18" lengthAdjust="spacingAndGlyphs" text-anchor="middle" transform="rotate(-45 1304.1 851.4)" style="white-space:pre">1028</text>
<text x="1369.70" y="857.70" font-size="18.40" textLength="44.18" lengthAdjust="spacingAndGlyphs" text-anchor="middle" transform="rotate(-45 1369.7 851.4)" style="white-space:pre">1030</text>
<text x="1435.30" y="857.70" font-size="18.40" textLength="44.18" lengthAdjust="spacingAndGlyphs" text-anchor="middle" transform="rotate(-45 1435.3 851.4)" style="white-space:pre">1032</text>
</g>
<text x="185.20" y="871.80" font-size="23.92" textLength="166.62" lengthAdjust="spacingAndGlyphs" font-weight="bold" style="white-space:pre">Temperature</text>
<text x="359.40" y="871.80" font-size="23.92" textLength="10.29" lengthAdjust="spacingAndGlyphs" font-weight="bold" style="white-space:pre">(</text>
<text x="395.30" y="871.80" font-size="23.92" textLength="10.29" lengthAdjust="spacingAndGlyphs" font-weight="bold" style="white-space:pre">)</text>
<text x="368.3" y="862.3" font-size="15.5" font-style="italic" textLength="8.5" lengthAdjust="spacingAndGlyphs">o</text>
<text x="378.6" y="871.8" font-size="23.9" font-style="italic" textLength="17.5" lengthAdjust="spacingAndGlyphs">C</text>
<text x="732.00" y="869.70" font-size="23.92" textLength="96.25" lengthAdjust="spacingAndGlyphs" font-weight="bold" style="white-space:pre">Salinity</text>
<text x="1158.40" y="895.70" font-size="23.92" textLength="212.95" lengthAdjust="spacingAndGlyphs" font-weight="bold" style="white-space:pre">Density (kg m-3)</text>
<text x="0.00" y="0.00" font-size="23.92" textLength="129.20" lengthAdjust="spacingAndGlyphs" font-weight="bold" transform="translate(28.9 482.0) rotate(-90)" style="white-space:pre">Depth (m)</text>
<text x="259.80" y="918.10" font-size="18.40" textLength="1056.13" lengthAdjust="spacingAndGlyphs" font-style="italic" style="white-space:pre">Ocean Heat Content (kJ/cm^2) - Glider: 64.7252,  RTOFS: 62.8890,  ESPC: 51.6684,  CMEMS: 63.7326,  NESDIS: 69.8122,</text>
<text x="1511.80" y="37.00" font-size="23.92" textLength="380.77" lengthAdjust="spacingAndGlyphs" font-weight="bold" style="white-space:pre">Comparison Date: 2025-08-19</text>
<text x="1511.80" y="89.50" font-size="23.92" textLength="173.51" lengthAdjust="spacingAndGlyphs" font-weight="bold" style="white-space:pre">Glider: ng598</text>
<text x="1511.80" y="116.25" font-size="23.92" textLength="145.81" lengthAdjust="spacingAndGlyphs" font-weight="bold" style="white-space:pre">Profiles: 12</text>
<text x="1511.80" y="143.00" font-size="23.92" textLength="339.82" lengthAdjust="spacingAndGlyphs" font-weight="bold" style="white-space:pre">First: 2025-08-19 00:13:14</text>
<text x="1511.80" y="169.50" font-size="23.92" textLength="335.31" lengthAdjust="spacingAndGlyphs" font-weight="bold" style="white-space:pre">Last: 2025-08-19 19:10:17</text>
<text x="1511.80" y="195.75" font-size="23.92" textLength="340.81" lengthAdjust="spacingAndGlyphs" font-weight="bold" style="white-space:pre">Method: Nearest-Neighbor</text>
<clipPath id="mapclip"><rect x="1552.0" y="261.0" width="393.4" height="311.3"/></clipPath>
<g clip-path="url(#mapclip)">
<rect x="1552.0" y="261.0" width="393.4" height="311.3" fill="#d2b48c"/>
<polygon points="1760.0,321.8 1749.9,321.2 1737.1,321.2 1742.9,327.0 1734.5,338.5 1739.6,345.0 1731.3,350.1 1730.6,346.2 1722.9,341.7 1717.8,346.2 1710.1,347.5 1701.7,346.2 1694.7,341.7 1685.7,337.9 1679.3,336.6 1672.8,335.3 1666.4,332.8 1661.4,330.7 1650.7,331.8 1642.1,335.0 1631.4,341.4 1619.6,350.5 1610.0,355.9 1599.3,362.8 1590.7,370.3 1585.3,377.8 1583.2,386.4 1584.8,397.1 1586.4,411.0 1583.0,424.1 1578.6,436.5 1576.8,454.2 1575.9,468.3 1574.1,480.7 1575.9,493.1 1581.2,505.5 1588.3,521.4 1597.1,532.0 1602.4,544.3 1611.3,556.7 1625.4,558.5 1637.8,569.1 1651.9,565.6 1669.6,560.3 1683.7,558.5 1690.0,555.5 1695.5,553.7 1706.4,545.5 1707.3,537.3 1711.4,533.7 1711.4,517.3 1714.6,510.9 1721.8,507.3 1744.6,503.2 1755.5,500.0 1770.1,501.8 1774.6,500.0 1781.0,502.7 1781.9,509.1 1776.4,518.2 1770.1,524.6 1767.3,531.0 1767.3,539.1 1766.4,549.1 1762.8,560.1 1761.0,574.0 1948.0,574.0 1948.0,258.0 1917.0,258.0 1902.4,268.2 1889.2,281.3 1882.7,300.0 1881.1,309.3 1881.1,320.2 1884.2,335.7 1892.0,354.3 1899.8,374.5 1905.2,390.1 1907.4,400.9 1906.2,412.7 1905.0,421.5 1899.7,430.3 1888.0,431.5 1885.0,426.0 1882.0,418.5 1874.4,413.8 1872.7,406.8 1868.0,402.7 1864.0,393.0 1856.3,379.2 1853.9,366.8 1857.0,357.5 1854.7,346.6 1847.0,338.8 1837.6,328.0 1829.9,324.8 1822.1,329.5 1814.3,334.2 1806.6,331.1 1798.8,323.3 1788.0,319.4 1775.5,320.2" fill="#97b6e1" stroke="#000" stroke-width="2.0" stroke-linejoin="round"/>
<polygon points="1814.5,494.9 1823.5,491.5 1824.2,484.7 1832.5,478.0 1843.7,473.9 1858.7,470.5 1866.2,468.6 1877.5,469.0 1888.7,467.1 1903.7,470.5 1915.0,476.5 1922.4,481.0 1933.7,482.5 1948.0,486.2 1948.0,517.0 1937.4,511.0 1933.0,502.0 1926.2,500.5 1915.0,499.0 1900.0,491.5 1888.7,490.7 1881.2,487.7 1875.2,484.7 1876.0,480.2 1870.0,478.7 1856.5,478.7 1849.0,483.2 1843.7,488.5 1832.5,490.0 1828.7,493.0 1825.0,495.2" fill="#d2b48c" stroke="#000" stroke-width="2.2" stroke-linejoin="round"/>
<circle cx="1853.5" cy="498.2" r="4.3" fill="#d2b48c" stroke="#000" stroke-width="1.8"/>
<ellipse cx="1943" cy="565.3" rx="4.5" ry="2.8" fill="#d2b48c" stroke="#000" stroke-width="1.4"/>
<polygon points="1937.5,432.7 1946,423 1946,442" fill="#d2b48c" stroke="#000" stroke-width="1.6"/>
<polygon points="1712,322 1717,318 1721.7,321 1721,326 1714,326" fill="#97b6e1" stroke="#000" stroke-width="1.6"/>
<polygon points="1682,558 1690,555.5 1698,556 1697,561 1688,563.5" fill="#97b6e1" stroke="#000" stroke-width="1.4"/>
<polygon points="1888,391.6 1892,387.5 1896,391.6 1892,395.7" fill="#b4b4b4"/>
<g fill="none" stroke="#000" stroke-linecap="round" stroke-linejoin="round">
<polyline points="1585.4,411 1583.2,397 1581.6,386.4 1583.5,377.5 1589,369.5 1597.5,362 1608.5,355 1618,349 1629.5,340.5 1633,337" stroke-width="4.2"/>
<polyline points="1629,335 1631,331 1634,335" stroke-width="3"/>
<polyline points="1678,335.5 1686,337 1695,341 1702,345 1710,346.5 1718,345 1723,341 1729,344" stroke-width="4.2"/>
<polyline points="1722,330 1728,337 1733,346 1738,344 1734,337 1741,328" stroke-width="3.5"/>
<polyline points="1738,322 1752,322.5 1760,321.5" stroke-width="3"/>
<polyline points="1575,423 1578,436 1577,450" stroke-width="3"/>
<polyline points="1577,494 1581,502 1583,508" stroke-width="3"/>
<polyline points="1800,322 1806,330 1814,333" stroke-width="3.2"/>
<polyline points="1838,328 1847,338 1853,345 1856,356" stroke-width="2.8"/>
<polyline points="1854.5,367 1857,379 1863.5,391 1867,401" stroke-width="4"/>

<polyline points="1893,433 1886,437 1878,438.8 1870,440 1866.5,440.5" stroke-width="3.2"/><polyline points="1874,439.5 1884,437" stroke-width="4.8"/><polyline points="1866.5,403 1871.5,408 1874,414.5 1881,419.5 1885,425 1888,429.5 1899,428.5 1904,421" stroke-width="4"/>
<polyline points="1899,375 1904,389" stroke-width="2.5"/>
<polyline points="1880.5,308 1880.5,297 1884,289 1889.5,281 1896,274 1903,268 1910,263.5 1914,261" stroke-width="3.4"/>
<polyline points="1889,468.5 1903.7,471.5 1915,477.5 1922.4,482 1934,484 1946,487.5" stroke-width="4.2"/>
<polyline points="1918,510.5 1930,516 1943,522" stroke-width="3"/>
<polyline points="1858,499 1866,500.5 1874,499.5 1882,498" stroke-width="2.2"/>
<polyline points="1852,487 1856,492" stroke-width="2"/>
<polyline points="1844,492 1849,493" stroke-width="2"/>
<polyline points="1815,495 1822,491" stroke-width="3.5"/>
<polyline points="1926,388 1933,394.5 1944,388.5" stroke-width="2.5"/>
<polyline points="1936,384 1945,386" stroke-width="2"/>
<polyline points="1920,417.4 1922.1,424" stroke-width="2"/>
<polyline points="1898,451.4 1904.6,450.3" stroke-width="2"/>
<polyline points="1909,448.1 1915.6,460" stroke-width="1.6" stroke-dasharray="2,1.5"/>
<polyline points="1899.5,458 1899.5,458.5" stroke-width="2"/>
<polyline points="1881,545.5 1887,546.5" stroke-width="2.5"/>
<polyline points="1906,538.8 1913,537" stroke-width="2.2"/>
<ellipse cx="1778.7" cy="523.7" rx="3" ry="1.8" stroke-width="1.3" transform="rotate(-35 1778.7 523.7)"/>
<polyline points="1759,559 1765,566 1762,571" stroke-width="2"/>
<polyline points="1745,567 1748,562" stroke-width="1.5"/>
<circle cx="1694" cy="490" r="0.6" stroke-width="1"/>
</g>
<g fill="none" stroke="#000" stroke-width="1.1" stroke-linejoin="round">
<polyline points="1644.8,260.0 1644.8,283.3 1652.8,301.0 1650.7,320.0 1647.4,331.8"/>
<polyline points="1699.6,260.0 1702.2,276.2 1691.6,293.9 1688.9,304.5 1724.9,304.5 1723.6,311.6 1727.4,321.2"/>
<polyline points="1751.0,260.0 1748.8,285.7 1750.6,318.0"/>
<polyline points="1767.8,315.5 1766.2,304.7 1812.8,304.7"/>
<polyline points="1810.2,260.0 1814.6,277.0 1812.4,290.1 1815.9,310.9 1867.1,314.0 1868.7,317.9 1870.2,309.3 1881.1,310.9"/>
<polyline points="1878.2,260.0 1889.2,281.3"/>
<polyline points="1551,401.6 1565,408.9 1575.7,411 1586.4,412.1" stroke-dasharray="4,2" stroke-width="1.4"/>
</g>
<g fill="none" stroke="#97b6e1" stroke-width="1.7" stroke-linejoin="round">
<polyline points="1560.9,260.0 1576.8,276.2 1589.2,295.6 1603.0,316.0 1605.1,324.3 1607.8,332.8 1614.3,337.1 1615.3,344.6 1619.6,349.0"/>
<polyline points="1688.9,304.5 1692.1,308.3 1696.6,314.1 1698.5,320.6 1705.0,325.7 1712.7,326.3 1721.0,328.9 1721.0,333.4 1732.6,343.7"/>
<polyline points="1786.0,260.0 1790.5,270.4 1777.3,274.7 1768.5,281.3 1766.3,294.5 1757.6,309.9 1756.5,318.6"/>
<polyline points="1815.1,312.4 1812.0,323.3 1813.6,331.1"/>
<polyline points="1551.0,495.5 1563.2,491.9 1574.1,487.8"/>
<polyline points="1669.6,560.3 1670.5,565.6 1680.2,572.0"/>
<polyline points="1673.0,560.0 1678.0,565.0"/>
</g>
</g>
<circle cx="1669" cy="397" r="4.6" fill="#000"/>
<circle cx="1667.4" cy="395.5" r="4.6" fill="#ff0000" stroke="#000" stroke-width="1.3"/>
<line x1="1552.0" y1="572.3" x2="1945.4" y2="572.3" stroke="#000" stroke-width="1.4"/>
<line x1="1945.4" y1="261.0" x2="1945.4" y2="572.3" stroke="#000" stroke-width="1.4"/>
<g stroke="#000">
<line x1="1543.5" y1="572.30" x2="1552.0" y2="572.30" stroke-width="3.3"/>
<line x1="1945.4" y1="572.30" x2="1953.9" y2="572.30" stroke-width="3.3"/>
<line x1="1549.2" y1="552.63" x2="1552.0" y2="552.63" stroke-width="1.6"/>
<line x1="1945.4" y1="552.63" x2="1948.2" y2="552.63" stroke-width="1.6"/>
<line x1="1549.2" y1="532.84" x2="1552.0" y2="532.84" stroke-width="1.6"/>
<line x1="1945.4" y1="532.84" x2="1948.2" y2="532.84" stroke-width="1.6"/>
<line x1="1543.5" y1="512.93" x2="1552.0" y2="512.93" stroke-width="3.3"/>
<line x1="1945.4" y1="512.93" x2="1953.9" y2="512.93" stroke-width="3.3"/>
<line x1="1549.2" y1="492.88" x2="1552.0" y2="492.88" stroke-width="1.6"/>
<line x1="1945.4" y1="492.88" x2="1948.2" y2="492.88" stroke-width="1.6"/>
<line x1="1549.2" y1="472.69" x2="1552.0" y2="472.69" stroke-width="1.6"/>
<line x1="1945.4" y1="472.69" x2="1948.2" y2="472.69" stroke-width="1.6"/>
<line x1="1543.5" y1="452.34" x2="1552.0" y2="452.34" stroke-width="3.3"/>
<line x1="1945.4" y1="452.34" x2="1953.9" y2="452.34" stroke-width="3.3"/>
<line x1="1549.2" y1="431.85" x2="1552.0" y2="431.85" stroke-width="1.6"/>
<line x1="1945.4" y1="431.85" x2="1948.2" y2="431.85" stroke-width="1.6"/>
<line x1="1549.2" y1="411.18" x2="1552.0" y2="411.18" stroke-width="1.6"/>
<line x1="1945.4" y1="411.18" x2="1948.2" y2="411.18" stroke-width="1.6"/>
<line x1="1543.5" y1="390.33" x2="1552.0" y2="390.33" stroke-width="3.3"/>
<line x1="1945.4" y1="390.33" x2="1953.9" y2="390.33" stroke-width="3.3"/>
<line x1="1549.2" y1="369.30" x2="1552.0" y2="369.30" stroke-width="1.6"/>
<line x1="1945.4" y1="369.30" x2="1948.2" y2="369.30" stroke-width="1.6"/>
<line x1="1549.2" y1="348.08" x2="1552.0" y2="348.08" stroke-width="1.6"/>
<line x1="1945.4" y1="348.08" x2="1948.2" y2="348.08" stroke-width="1.6"/>
<line x1="1543.5" y1="326.65" x2="1552.0" y2="326.65" stroke-width="3.3"/>
<line x1="1945.4" y1="326.65" x2="1953.9" y2="326.65" stroke-width="3.3"/>
<line x1="1549.2" y1="305.00" x2="1552.0" y2="305.00" stroke-width="1.6"/>
<line x1="1945.4" y1="305.00" x2="1948.2" y2="305.00" stroke-width="1.6"/>
<line x1="1549.2" y1="283.12" x2="1552.0" y2="283.12" stroke-width="1.6"/>
<line x1="1945.4" y1="283.12" x2="1948.2" y2="283.12" stroke-width="1.6"/>
<line x1="1543.5" y1="261.00" x2="1552.0" y2="261.00" stroke-width="3.3"/>
<line x1="1945.4" y1="261.00" x2="1953.9" y2="261.00" stroke-width="3.3"/>
<line x1="1552.00" y1="572.3" x2="1552.00" y2="580.8" stroke-width="3.3"/>
<line x1="1552.00" y1="252.5" x2="1552.00" y2="261.0" stroke-width="3.3"/>
<line x1="1570.73" y1="572.3" x2="1570.73" y2="575.0999999999999" stroke-width="1.6"/>
<line x1="1570.73" y1="258.2" x2="1570.73" y2="261.0" stroke-width="1.6"/>
<line x1="1589.47" y1="572.3" x2="1589.47" y2="575.0999999999999" stroke-width="1.6"/>
<line x1="1589.47" y1="258.2" x2="1589.47" y2="261.0" stroke-width="1.6"/>
<line x1="1608.20" y1="572.3" x2="1608.20" y2="580.8" stroke-width="3.3"/>
<line x1="1608.20" y1="252.5" x2="1608.20" y2="261.0" stroke-width="3.3"/>
<line x1="1626.93" y1="572.3" x2="1626.93" y2="575.0999999999999" stroke-width="1.6"/>
<line x1="1626.93" y1="258.2" x2="1626.93" y2="261.0" stroke-width="1.6"/>
<line x1="1645.67" y1="572.3" x2="1645.67" y2="575.0999999999999" stroke-width="1.6"/>
<line x1="1645.67" y1="258.2" x2="1645.67" y2="261.0" stroke-width="1.6"/>
<line x1="1664.40" y1="572.3" x2="1664.40" y2="580.8" stroke-width="3.3"/>
<line x1="1664.40" y1="252.5" x2="1664.40" y2="261.0" stroke-width="3.3"/>
<line x1="1683.13" y1="572.3" x2="1683.13" y2="575.0999999999999" stroke-width="1.6"/>
<line x1="1683.13" y1="258.2" x2="1683.13" y2="261.0" stroke-width="1.6"/>
<line x1="1701.87" y1="572.3" x2="1701.87" y2="575.0999999999999" stroke-width="1.6"/>
<line x1="1701.87" y1="258.2" x2="1701.87" y2="261.0" stroke-width="1.6"/>
<line x1="1720.60" y1="572.3" x2="1720.60" y2="580.8" stroke-width="3.3"/>
<line x1="1720.60" y1="252.5" x2="1720.60" y2="261.0" stroke-width="3.3"/>
<line x1="1739.33" y1="572.3" x2="1739.33" y2="575.0999999999999" stroke-width="1.6"/>
<line x1="1739.33" y1="258.2" x2="1739.33" y2="261.0" stroke-width="1.6"/>
<line x1="1758.07" y1="572.3" x2="1758.07" y2="575.0999999999999" stroke-width="1.6"/>
<line x1="1758.07" y1="258.2" x2="1758.07" y2="261.0" stroke-width="1.6"/>
<line x1="1776.80" y1="572.3" x2="1776.80" y2="580.8" stroke-width="3.3"/>
<line x1="1776.80" y1="252.5" x2="1776.80" y2="261.0" stroke-width="3.3"/>
<line x1="1795.53" y1="572.3" x2="1795.53" y2="575.0999999999999" stroke-width="1.6"/>
<line x1="1795.53" y1="258.2" x2="1795.53" y2="261.0" stroke-width="1.6"/>
<line x1="1814.27" y1="572.3" x2="1814.27" y2="575.0999999999999" stroke-width="1.6"/>
<line x1="1814.27" y1="258.2" x2="1814.27" y2="261.0" stroke-width="1.6"/>
<line x1="1833.00" y1="572.3" x2="1833.00" y2="580.8" stroke-width="3.3"/>
<line x1="1833.00" y1="252.5" x2="1833.00" y2="261.0" stroke-width="3.3"/>
<line x1="1851.73" y1="572.3" x2="1851.73" y2="575.0999999999999" stroke-width="1.6"/>
<line x1="1851.73" y1="258.2" x2="1851.73" y2="261.0" stroke-width="1.6"/>
<line x1="1870.47" y1="572.3" x2="1870.47" y2="575.0999999999999" stroke-width="1.6"/>
<line x1="1870.47" y1="258.2" x2="1870.47" y2="261.0" stroke-width="1.6"/>
<line x1="1889.20" y1="572.3" x2="1889.20" y2="580.8" stroke-width="3.3"/>
<line x1="1889.20" y1="252.5" x2="1889.20" y2="261.0" stroke-width="3.3"/>
<line x1="1907.93" y1="572.3" x2="1907.93" y2="575.0999999999999" stroke-width="1.6"/>
<line x1="1907.93" y1="258.2" x2="1907.93" y2="261.0" stroke-width="1.6"/>
<line x1="1926.67" y1="572.3" x2="1926.67" y2="575.0999999999999" stroke-width="1.6"/>
<line x1="1926.67" y1="258.2" x2="1926.67" y2="261.0" stroke-width="1.6"/>
<line x1="1945.40" y1="572.3" x2="1945.40" y2="580.8" stroke-width="3.3"/>
<line x1="1945.40" y1="252.5" x2="1945.40" y2="261.0" stroke-width="3.3"/>
</g>
<g font-size="22" fill="#000">
<text x="1536.60" y="582.20" font-size="23.64" textLength="53.98" lengthAdjust="spacingAndGlyphs" text-anchor="end" style="white-space:pre">18°N</text>
<text x="1536.60" y="522.83" font-size="23.64" textLength="53.98" lengthAdjust="spacingAndGlyphs" text-anchor="end" style="white-space:pre">21°N</text>
<text x="1536.60" y="462.24" font-size="23.64" textLength="53.98" lengthAdjust="spacingAndGlyphs" text-anchor="end" style="white-space:pre">24°N</text>
<text x="1536.60" y="400.23" font-size="23.64" textLength="53.98" lengthAdjust="spacingAndGlyphs" text-anchor="end" style="white-space:pre">27°N</text>
<text x="1536.60" y="336.55" font-size="23.64" textLength="53.98" lengthAdjust="spacingAndGlyphs" text-anchor="end" style="white-space:pre">30°N</text>
<text x="1536.60" y="270.90" font-size="23.64" textLength="53.98" lengthAdjust="spacingAndGlyphs" text-anchor="end" style="white-space:pre">33°N</text>
<text x="1550.00" y="625.90" font-size="23.64" textLength="59.34" lengthAdjust="spacingAndGlyphs" text-anchor="middle" transform="rotate(-45 1550.0 617.8)" style="white-space:pre">99°W</text>
<text x="1606.20" y="625.90" font-size="23.64" textLength="59.34" lengthAdjust="spacingAndGlyphs" text-anchor="middle" transform="rotate(-45 1606.2 617.8)" style="white-space:pre">96°W</text>
<text x="1662.40" y="625.90" font-size="23.64" textLength="59.34" lengthAdjust="spacingAndGlyphs" text-anchor="middle" transform="rotate(-45 1662.4 617.8)" style="white-space:pre">93°W</text>
<text x="1718.60" y="625.90" font-size="23.64" textLength="59.34" lengthAdjust="spacingAndGlyphs" text-anchor="middle" transform="rotate(-45 1718.6 617.8)" style="white-space:pre">90°W</text>
<text x="1774.80" y="625.90" font-size="23.64" textLength="59.34" lengthAdjust="spacingAndGlyphs" text-anchor="middle" transform="rotate(-45 1774.8 617.8)" style="white-space:pre">87°W</text>
<text x="1831.00" y="625.90" font-size="23.64" textLength="59.34" lengthAdjust="spacingAndGlyphs" text-anchor="middle" transform="rotate(-45 1831.0 617.8)" style="white-space:pre">84°W</text>
<text x="1887.20" y="625.90" font-size="23.64" textLength="59.34" lengthAdjust="spacingAndGlyphs" text-anchor="middle" transform="rotate(-45 1887.2 617.8)" style="white-space:pre">81°W</text>
<text x="1943.40" y="625.90" font-size="23.64" textLength="59.34" lengthAdjust="spacingAndGlyphs" text-anchor="middle" transform="rotate(-45 1943.4 617.8)" style="white-space:pre">78°W</text>
</g>
<rect x="1666" y="656" width="165.1" height="143.8" rx="3" ry="3" fill="#fff" stroke="#d0d0d0" stroke-width="1.4"/>
<line x1="1674" y1="675.1" x2="1722" y2="675.1" stroke="#0000ff" stroke-width="2.6"/>
<circle cx="1698.2" cy="675.1" r="5.9" fill="#0000ff"/>
<text x="1738.00" y="683.80" font-size="23.64" textLength="70.85" lengthAdjust="spacingAndGlyphs" style="white-space:pre">ng598</text>
<line x1="1674" y1="709.2" x2="1722" y2="709.2" stroke="#ff0000" stroke-width="2.6"/>
<circle cx="1698.2" cy="709.2" r="5.9" fill="#ff0000"/>
<text x="1738.00" y="717.90" font-size="23.64" textLength="73.65" lengthAdjust="spacingAndGlyphs" style="white-space:pre">RTOFS</text>
<line x1="1674" y1="744.3" x2="1722" y2="744.3" stroke="#008000" stroke-width="2.6"/>
<circle cx="1698.2" cy="744.3" r="5.9" fill="#008000"/>
<text x="1738.00" y="753.00" font-size="23.64" textLength="57.26" lengthAdjust="spacingAndGlyphs" style="white-space:pre">ESPC</text>
<line x1="1674" y1="778.3" x2="1722" y2="778.3" stroke="#ff00ff" stroke-width="2.6"/>
<circle cx="1698.2" cy="778.3" r="5.9" fill="#ff00ff"/>
<text x="1738.00" y="787.00" font-size="23.64" textLength="82.30" lengthAdjust="spacingAndGlyphs" style="white-space:pre">CMEMS</text>
</svg>
</body></html>
